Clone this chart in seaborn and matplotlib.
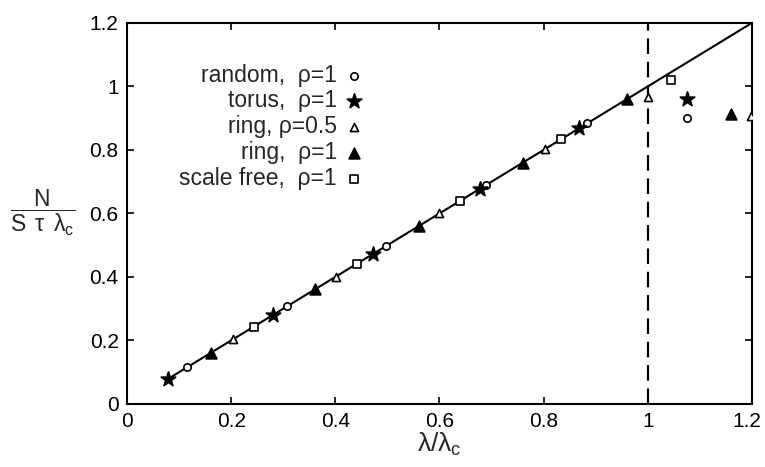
import matplotlib
matplotlib.use("Agg")
import matplotlib.pyplot as plt
import matplotlib.transforms as mtransforms
import pandas as pd
import seaborn as sns
from matplotlib.ticker import FuncFormatter

# data
random_x = [0.115, 0.307, 0.498, 0.690, 0.884, 1.076]
random_y = [0.115, 0.307, 0.498, 0.690, 0.884, 0.900]
torus_x = [0.078, 0.280, 0.473, 0.677, 0.868, 1.075]
torus_y = [0.078, 0.280, 0.473, 0.677, 0.868, 0.960]
ring05_x = [0.203, 0.401, 0.600, 0.803, 1.000, 1.198]
ring05_y = [0.203, 0.401, 0.600, 0.803, 0.968, 0.907]
ring1_x = [0.161, 0.361, 0.560, 0.760, 0.960, 1.160]
ring1_y = [0.161, 0.361, 0.560, 0.760, 0.960, 0.913]
sf_x = [0.243, 0.442, 0.640, 0.834, 1.044]
sf_y = [0.243, 0.442, 0.640, 0.834, 1.020]
line_x = [0.08, 1.2]
line_y = [0.08, 1.2]
critical_x = 1.0

series = [
    ("random,  ρ=1", random_x, random_y, "o", "white", 28),
    ("torus,  ρ=1", torus_x, torus_y, "*", "black", 120),
    ("ring, ρ=0.5", ring05_x, ring05_y, "^", "white", 34),
    ("ring,  ρ=1", ring1_x, ring1_y, "^", "black", 60),
    ("scale free,  ρ=1", sf_x, sf_y, "s", "white", 38),
]

sns.set_theme(style="ticks")
plt.rcParams["font.family"] = ["Liberation Sans", "DejaVu Sans"]
plt.rcParams["mathtext.fontset"] = "custom"
plt.rcParams["mathtext.rm"] = "Liberation Sans"
plt.rcParams["mathtext.it"] = "Liberation Sans"
plt.rcParams["mathtext.bf"] = "Liberation Sans"

fig = plt.figure(figsize=(7.65, 4.67), dpi=100)
ax = fig.add_axes([0.166, 0.135, 0.817, 0.816])

sns.lineplot(x=line_x, y=line_y, color="black", linewidth=1.5, ax=ax)
ax.axvline(critical_x, color="black", linewidth=1.6, linestyle=(0, (7, 3.5)))

for label, xs, ys, marker, face, size in series:
    df = pd.DataFrame({"x": xs, "y": ys})
    sns.scatterplot(data=df, x="x", y="y", marker=marker, s=size, color=face,
                    edgecolor="black", linewidth=1.2, label=label, ax=ax,
                    zorder=3)

ax.set_xlim(0, 1.2)
ax.set_ylim(0, 1.2)
ticks = [0, 0.2, 0.4, 0.6, 0.8, 1.0, 1.2]
ax.set_xticks(ticks)
ax.set_yticks(ticks)
fmt = FuncFormatter(lambda v, p: f"{v:g}")
ax.xaxis.set_major_formatter(fmt)
ax.yaxis.set_major_formatter(fmt)
ax.tick_params(direction="in", length=5, width=1.2, top=True, right=True,
               labelsize=15, colors="black", pad=6)
for sp in ax.spines.values():
    sp.set_linewidth(1.5)
    sp.set_color("black")

# keep the last x label inside the figure, like the original
last = ax.xaxis.get_major_ticks()[-1].label1
last.set_transform(last.get_transform()
                   + mtransforms.ScaledTranslation(-5 / 100, 0, fig.dpi_scale_trans))

ax.set_xlabel(r"$\lambda/\lambda_{c}$", fontsize=19, labelpad=0)
ax.set_ylabel(r"$\dfrac{N}{S\ \,\tau\ \,\lambda_{c}}$", fontsize=16.5, rotation=0,
              ha="center", va="center")
ax.yaxis.set_label_coords(-0.135, 0.5)

leg = ax.legend(loc="upper right", bbox_to_anchor=(0.40, 0.923), frameon=False,
                markerfirst=False, fontsize=16.5, handletextpad=0.25,
                labelspacing=0.12, borderpad=0, handlelength=1.0)

fig.savefig("out.png", dpi=100)
